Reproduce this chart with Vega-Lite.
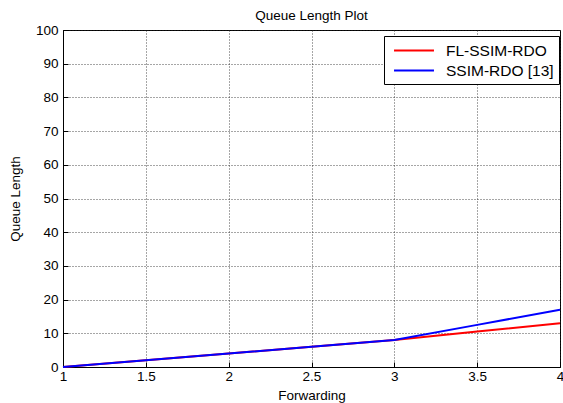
{
  "$schema": "https://vega.github.io/schema/vega-lite/v6.json",
  "width": 497,
  "height": 337,
  "autosize": {"type": "none"},
  "padding": {"left": 63, "top": 30, "right": 3, "bottom": 36},
  "background": "white",
  "title": {"text": "Queue Length Plot", "font": "Liberation Sans", "fontSize": 13.5, "fontWeight": "normal", "color": "black", "offset": 1},
  "config": {
    "view": {"stroke": "black", "strokeWidth": 1},
    "axis": {
      "labelFont": "Liberation Sans", "labelFontSize": 13.5, "labelColor": "black",
      "titleFont": "Liberation Sans", "titleFontSize": 13.5, "titleColor": "black", "titleFontWeight": "normal",
      "gridColor": "#222", "gridDash": [1, 2], "gridOpacity": 0.8, "gridWidth": 1,
      "domainColor": "black", "tickColor": "black", "tickSize": -5, "labelPadding": 10
    }
  },
  "data": {"values": [
    {"x": 1, "y": 0, "s": "FL-SSIM-RDO"},
    {"x": 1.5, "y": 2, "s": "FL-SSIM-RDO"},
    {"x": 2, "y": 4, "s": "FL-SSIM-RDO"},
    {"x": 2.5, "y": 6, "s": "FL-SSIM-RDO"},
    {"x": 3, "y": 8, "s": "FL-SSIM-RDO"},
    {"x": 3.5, "y": 10.5, "s": "FL-SSIM-RDO"},
    {"x": 4, "y": 13, "s": "FL-SSIM-RDO"},
    {"x": 1, "y": 0, "s": "SSIM-RDO [13]"},
    {"x": 1.5, "y": 2, "s": "SSIM-RDO [13]"},
    {"x": 2, "y": 4, "s": "SSIM-RDO [13]"},
    {"x": 2.5, "y": 6, "s": "SSIM-RDO [13]"},
    {"x": 3, "y": 8, "s": "SSIM-RDO [13]"},
    {"x": 3.5, "y": 12.5, "s": "SSIM-RDO [13]"},
    {"x": 4, "y": 17, "s": "SSIM-RDO [13]"}
  ]},
  "mark": {"type": "line", "strokeWidth": 2},
  "encoding": {
    "x": {"field": "x", "type": "quantitative", "scale": {"domain": [1, 4], "nice": false, "zero": false},
          "axis": {"values": [1, 1.5, 2, 2.5, 3, 3.5, 4], "format": "~g", "title": "Forwarding", "titlePadding": 6, "labelPadding": 7, "labelFlush": false}},
    "y": {"field": "y", "type": "quantitative", "scale": {"domain": [0, 100], "nice": false},
          "axis": {"values": [0, 10, 20, 30, 40, 50, 60, 70, 80, 90, 100], "title": "Queue Length", "titlePadding": 13}},
    "color": {"field": "s", "type": "nominal",
      "scale": {"domain": ["FL-SSIM-RDO", "SSIM-RDO [13]"], "range": ["#ff0000", "#0000ff"]},
      "legend": {"title": null, "orient": "none", "legendX": 321, "legendY": 6, "strokeColor": "black", "fillColor": "white",
        "padding": 5, "symbolType": "M-2.35,0H2.35", "symbolSize": 289, "symbolOffset": 15.5, "symbolStrokeWidth": 2, "labelFont": "Liberation Sans", "labelFontSize": 15.5, "labelColor": "black", "rowPadding": 2, "labelOffset": 22.5}}
  }
}
